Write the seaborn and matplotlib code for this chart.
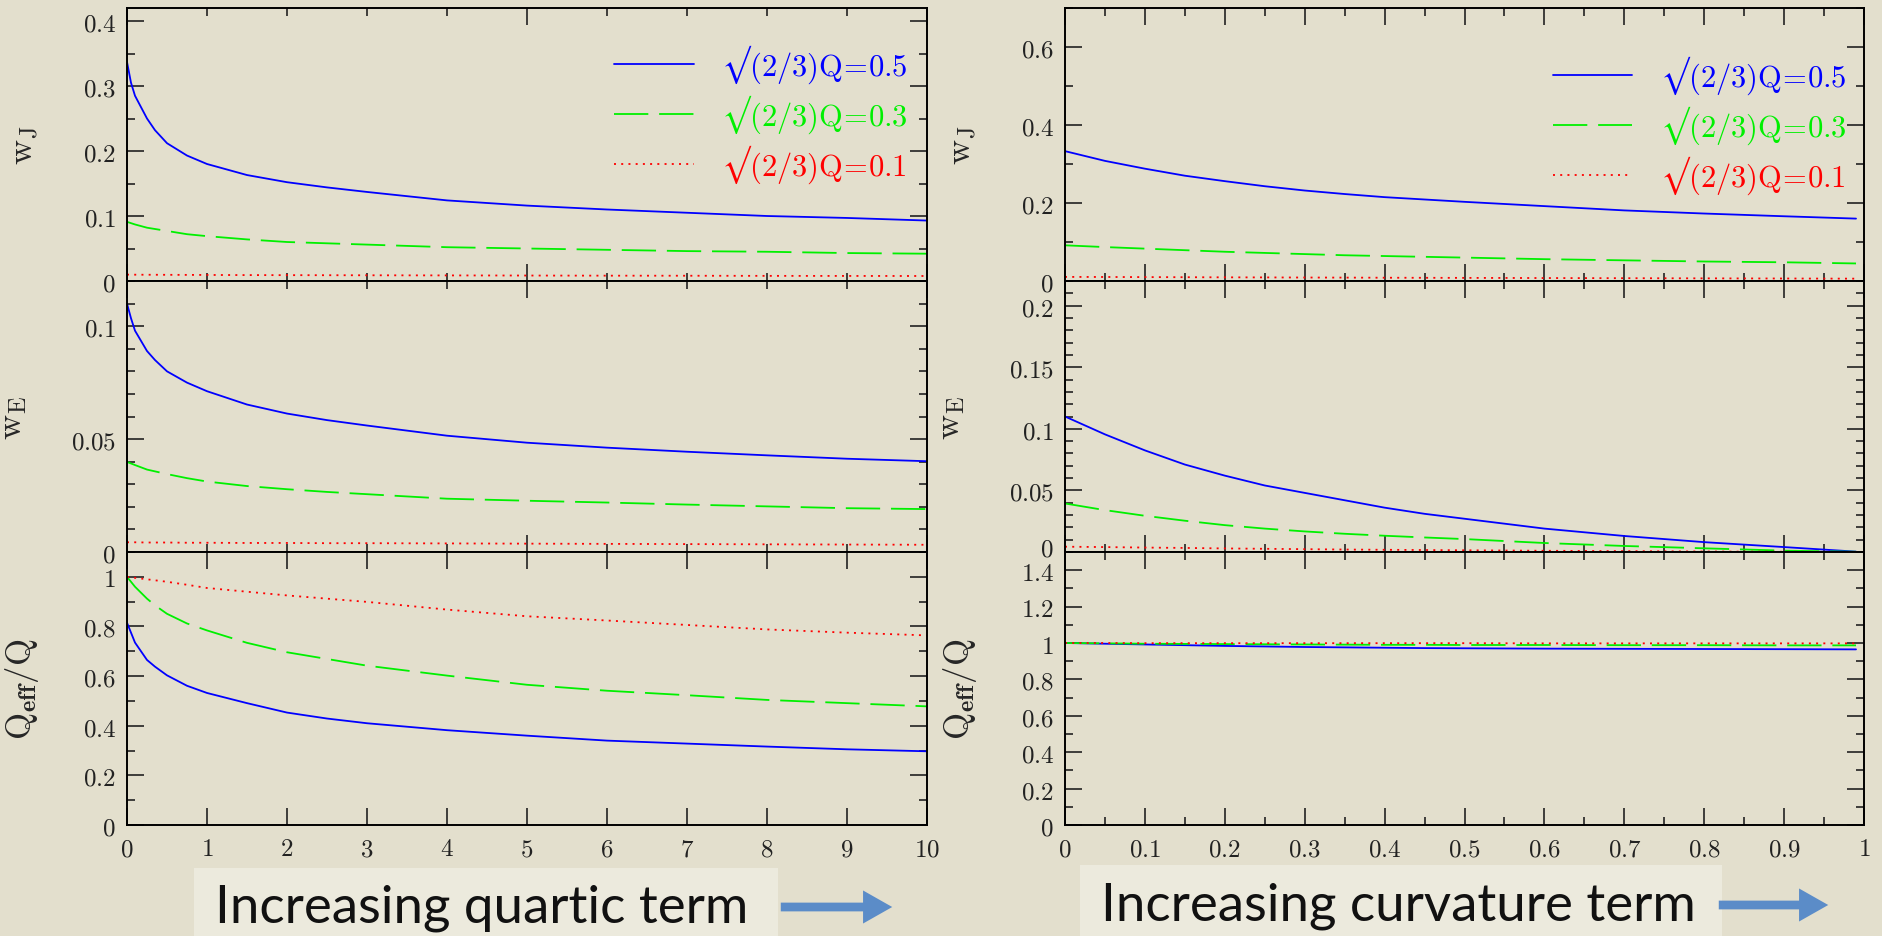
import matplotlib
matplotlib.use("Agg")
import matplotlib.pyplot as plt
import matplotlib.transforms as mtransforms
import seaborn as sns
from matplotlib.ticker import MultipleLocator, FuncFormatter
from matplotlib.patches import Rectangle, FancyArrowPatch

# ---------------------------------------------------------------- data
# quartic-term scan (left column)
quartic = [0, 0.05, 0.1, 0.25, 0.35, 0.5, 0.75, 1, 1.5, 2, 2.5, 3, 4, 5, 6, 7, 8, 9, 10]
wj_quartic_05 = [0.337, 0.305, 0.285, 0.250, 0.232, 0.212, 0.193, 0.180, 0.163, 0.152,
                 0.144, 0.137, 0.124, 0.116, 0.110, 0.105, 0.100, 0.097, 0.093]
wj_quartic_03 = [0.091, 0.089, 0.087, 0.082, 0.080, 0.077, 0.072, 0.069, 0.064, 0.060,
                 0.058, 0.056, 0.052, 0.050, 0.048, 0.046, 0.045, 0.043, 0.042]
wj_quartic_01 = [0.0098, 0.0098, 0.0097, 0.0096, 0.0096, 0.0095, 0.0094, 0.0093, 0.0091,
                 0.0090, 0.0089, 0.0088, 0.0086, 0.0084, 0.0082, 0.0081, 0.0079, 0.0078,
                 0.0077]
we_quartic_05 = [0.110, 0.1035, 0.098, 0.089, 0.085, 0.080, 0.075, 0.0712, 0.0653,
                 0.0613, 0.0584, 0.0560, 0.0515, 0.0484, 0.0462, 0.0444, 0.0428,
                 0.0413, 0.0402]
we_quartic_03 = [0.0399, 0.0392, 0.0385, 0.0365, 0.0357, 0.0345, 0.0327, 0.0312,
                 0.0292, 0.0278, 0.0266, 0.0256, 0.0236, 0.0227, 0.0219, 0.0210,
                 0.0202, 0.0194, 0.0190]
we_quartic_01 = [0.0043, 0.0043, 0.0043, 0.0042, 0.0042, 0.0042, 0.0041, 0.0041,
                 0.0040, 0.0040, 0.0039, 0.0039, 0.0038, 0.0037, 0.0036, 0.0035,
                 0.0034, 0.0033, 0.0032]
qr_quartic_05 = [0.815, 0.775, 0.735, 0.665, 0.638, 0.603, 0.561, 0.532, 0.491, 0.453,
                 0.429, 0.410, 0.382, 0.360, 0.340, 0.328, 0.316, 0.305, 0.297]
qr_quartic_03 = [1.0, 0.98, 0.96, 0.912, 0.885, 0.851, 0.812, 0.784, 0.734, 0.696,
                 0.669, 0.642, 0.602, 0.565, 0.541, 0.523, 0.504, 0.491, 0.478]
qr_quartic_01 = [1.0, 0.998, 0.996, 0.99, 0.986, 0.98, 0.968, 0.955, 0.94, 0.925,
                 0.912, 0.899, 0.868, 0.841, 0.824, 0.806, 0.788, 0.775, 0.764]

# curvature-term scan (right column)
curvature = [0, 0.05, 0.1, 0.15, 0.2, 0.25, 0.3, 0.35, 0.4, 0.45, 0.5,
             0.6, 0.7, 0.8, 0.9, 0.99]
wj_curv_05 = [0.333, 0.308, 0.288, 0.270, 0.256, 0.243, 0.232, 0.223, 0.215,
              0.209, 0.203, 0.192, 0.181, 0.173, 0.166, 0.160]
wj_curv_03 = [0.0915, 0.087, 0.083, 0.079, 0.075, 0.072, 0.069, 0.066, 0.064,
              0.062, 0.060, 0.056, 0.053, 0.050, 0.048, 0.045]
wj_curv_01 = [0.0105, 0.0103, 0.0100, 0.0097, 0.0094, 0.0092, 0.0089, 0.0087,
              0.0084, 0.0082, 0.0080, 0.0076, 0.0072, 0.0068, 0.0064, 0.0060]
we_curv_05 = [0.110, 0.0955, 0.0825, 0.071, 0.062, 0.054, 0.048, 0.042, 0.036,
              0.031, 0.027, 0.019, 0.013, 0.008, 0.004, 0.0003]
we_curv_03 = [0.0394, 0.0340, 0.0294, 0.0254, 0.0218, 0.0190, 0.0167, 0.0148,
              0.0132, 0.0118, 0.0105, 0.0073, 0.0049, 0.0030, 0.0011, 0.0002]
we_curv_01 = [0.0043, 0.0040, 0.0036, 0.0033, 0.0029, 0.0026, 0.0023, 0.0020,
              0.0018, 0.0016, 0.0014, 0.0010, 0.0007, 0.0004, 0.0002, 0.0]
qr_curv_05 = [1.0, 0.996, 0.992, 0.988, 0.984, 0.981, 0.978, 0.976, 0.974,
              0.972, 0.971, 0.969, 0.968, 0.967, 0.966, 0.965]
qr_curv_03 = [1.0, 0.998, 0.996, 0.995, 0.994, 0.993, 0.992, 0.991, 0.990,
              0.990, 0.989, 0.989, 0.988, 0.988, 0.987, 0.987]
qr_curv_01 = [1.0, 1.0, 0.999, 0.999, 0.999, 0.999, 0.999, 0.999, 0.999,
              0.999, 0.999, 0.998, 0.998, 0.998, 0.998, 0.998]

series_labels = [r"$\mathrm{√(2/3)Q\!=\!0.5}$",
                 r"$\mathrm{√(2/3)Q\!=\!0.3}$",
                 r"$\mathrm{√(2/3)Q\!=\!0.1}$"]
ylabels = [r"$\mathrm{w}_{\mathrm{J}}$", r"$\mathrm{w}_{\mathrm{E}}$",
           r"$\mathrm{Q}_{\mathbf{eff}}\mathrm{/Q}$"]
captions = ["Increasing quartic term", "Increasing curvature term"]

# ---------------------------------------------------------------- style
BG = "#e3dfcd"
sns.set_theme(style="ticks")
plt.rcParams.update({
    "figure.facecolor": BG,
    "axes.facecolor": BG,
    "axes.edgecolor": "black",
    "axes.linewidth": 1.4,
    "mathtext.fontset": "cm",
    "xtick.color": "#222222",
    "ytick.color": "#222222",
})
plt.rcParams["font.family"] = ["Lato", "DejaVu Sans"]

colors = ["#0000ff", "#00f000", "#ff0000"]
styles = ["-", (0, (19, 6)), (0, (1.1, 2.9))]

fig = plt.figure(figsize=(18.83, 9.37), dpi=100)

col_x = [(127, 800), (1065, 799)]
row_y = [(9, 282), (282, 553), (553, 826)]
W, H = 1883.0, 937.0


def make_ax(c, r):
    x0, w = col_x[c]
    top, bot = row_y[r]
    return fig.add_axes([x0 / W, 1 - bot / H, w / W, (bot - top) / H])


fmt = FuncFormatter(lambda v, p: f"${v:g}$")

columns = [
    dict(x=quartic, xlim=(0, 10),
         rows=[(wj_quartic_05, wj_quartic_03, wj_quartic_01),
               (we_quartic_05, we_quartic_03, we_quartic_01),
               (qr_quartic_05, qr_quartic_03, qr_quartic_01)],
         ylims=[(0, 0.42), (0, 0.12), (0, 1.1)],
         ymaj=[0.1, 0.05, 0.2], ymin=[0.05, 0.01, 0.1],
         xmaj=[5, 5, 1], xmin=[1, 1, None],
         leg_anchor=(0.976, 0.875)),
    dict(x=curvature, xlim=(0, 1),
         rows=[(wj_curv_05, wj_curv_03, wj_curv_01),
               (we_curv_05, we_curv_03, we_curv_01),
               (qr_curv_05, qr_curv_03, qr_curv_01)],
         ylims=[(0, 0.70), (0, 0.22), (0, 1.5)],
         ymaj=[0.2, 0.05, 0.2], ymin=[0.1, 0.01, 0.1],
         xmaj=[0.1, 0.1, 0.1], xmin=[0.05, 0.05, 0.05],
         leg_anchor=(0.978, 0.835)),
]

axes = {}
for c, col in enumerate(columns):
    for r in range(3):
        ax = make_ax(c, r)
        axes[c, r] = ax
        for ys, colr, ls, lab in zip(col["rows"][r], colors, styles, series_labels):
            sns.lineplot(x=col["x"], y=ys, ax=ax, color=colr, linewidth=1.3,
                         linestyle=ls, label=lab if r == 0 else None, legend=False)
        ax.set_xlim(*col["xlim"])
        ax.set_ylim(*col["ylims"][r])
        ax.xaxis.set_major_locator(MultipleLocator(col["xmaj"][r]))
        if col["xmin"][r]:
            ax.xaxis.set_minor_locator(MultipleLocator(col["xmin"][r]))
        ax.yaxis.set_major_locator(MultipleLocator(col["ymaj"][r]))
        ax.yaxis.set_minor_locator(MultipleLocator(col["ymin"][r]))
        ax.tick_params(which="both", direction="in", top=True, right=True)
        ax.tick_params(which="major", length=12, width=1.2, labelsize=18, pad=8)
        ax.tick_params(which="minor", length=6, width=1.2)
        ax.xaxis.set_major_formatter(fmt)
        ax.yaxis.set_major_formatter(fmt)
        if r < 2:
            ax.tick_params(labelbottom=False)
        ax.set_xlabel("")
        ax.set_ylabel(ylabels[r], fontsize=25, labelpad=30)
        if r == 0:
            ax.legend(loc="upper right", bbox_to_anchor=col["leg_anchor"],
                      frameon=False, fontsize=22, handlelength=2.6,
                      handletextpad=0.9, labelspacing=0.25,
                      borderpad=0, borderaxespad=0, labelcolor="linecolor")

# lift the "0" of the right middle panel a little so it clears the "1.4" below
fig.canvas.draw()
lift = mtransforms.ScaledTranslation(0, 4 / 72, fig.dpi_scale_trans)
for tick in axes[1, 1].yaxis.get_major_ticks():
    if abs(tick.get_loc()) < 1e-9:
        tick.label1.set_transform(tick.label1.get_transform() + lift)

# ---------------------------------------------------------------- captions
boxes = [(194, 869, 584, 68), (1080, 866, 642, 71)]
text_pos = [(215, 923), (1101, 921)]
arrows = [((778, 908), (895, 908)), ((1716, 906), (1831, 906))]
for (bx, by, bw, bh), (tx, ty), (a0, a1), cap in zip(boxes, text_pos, arrows, captions):
    fig.add_artist(Rectangle((bx / W, 1 - (by + bh) / H), bw / W, bh / H,
                             transform=fig.transFigure, facecolor="#eceadd",
                             edgecolor="none", zorder=0))
    fig.text(tx / W, 1 - ty / H, cap, fontsize=38, color="#111111",
             fontweight="normal", ha="left", va="baseline")
    fig.add_artist(FancyArrowPatch((a0[0] / W, 1 - a0[1] / H), (a1[0] / W, 1 - a1[1] / H),
                                   transform=fig.transFigure,
                                   arrowstyle="simple,head_width=1.7,head_length=1.5,tail_width=0.45",
                                   mutation_scale=14, color="#5b8cc8", lw=0))

fig.savefig("out.png", dpi=100, facecolor=BG)
